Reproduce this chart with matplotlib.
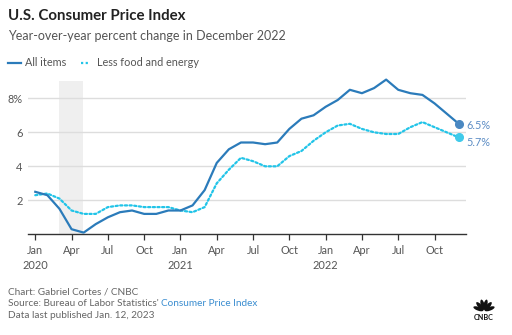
import matplotlib
matplotlib.use("Agg")
import matplotlib.pyplot as plt
from matplotlib.patches import Ellipse
import numpy as np

plt.rcParams['font.family'] = ['Lato', 'DejaVu Sans']

# Year-over-year percent change, Jan 2020 - Dec 2022
all_items = [2.5, 2.3, 1.5, 0.3, 0.1, 0.6, 1.0, 1.3, 1.4, 1.2, 1.2, 1.4,
             1.4, 1.7, 2.6, 4.2, 5.0, 5.4, 5.4, 5.3, 5.4, 6.2, 6.8, 7.0,
             7.5, 7.9, 8.5, 8.3, 8.6, 9.1, 8.5, 8.3, 8.2, 7.7, 7.1, 6.5]
core = [2.3, 2.4, 2.1, 1.4, 1.2, 1.2, 1.6, 1.7, 1.7, 1.6, 1.6, 1.6,
        1.4, 1.3, 1.6, 3.0, 3.8, 4.5, 4.3, 4.0, 4.0, 4.6, 4.9, 5.5,
        6.0, 6.4, 6.5, 6.2, 6.0, 5.9, 5.9, 6.3, 6.6, 6.3, 6.0, 5.7]
months = np.arange(len(all_items))
tick_pos = [0, 3, 6, 9, 12, 15, 18, 21, 24, 27, 30, 33]
tick_labels = ["Jan\n2020", "Apr", "Jul", "Oct", "Jan\n2021", "Apr", "Jul", "Oct",
               "Jan\n2022", "Apr", "Jul", "Oct"]
y_ticks = [2, 4, 6, 8]
y_labels = ["2", "4", "6", "8%"]
recession = (1.98, 3.92)

BLUE = "#2b7bba"
CYAN = "#22c4e8"
GRAY = "#555555"

W, H = 512, 335
fig = plt.figure(figsize=(W / 100, H / 100), dpi=100)
fig.patch.set_facecolor("white")

def fx(px):
    return px / W

def fy(py):
    return 1 - py / H

ymax = 9.3
ax = fig.add_axes([fx(28), fy(234.3), fx(466) - fx(28), 9.3 * 17 / H])
ax.set_xlim(-0.6, 35.6)
ax.set_ylim(0, ymax)

ax.axvspan(recession[0], recession[1], ymin=0, ymax=9.02 / ymax, color="#efefef", lw=0, zorder=0)
for y in y_ticks:
    ax.axhline(y, color="#dddddd", lw=1.0, zorder=1)

ax.plot(months, core, color=CYAN, lw=1.6, linestyle=(0, (1, 1.1)), zorder=3,
        solid_capstyle="round", dash_capstyle="round")
ax.plot(months, all_items, color=BLUE, lw=1.6, zorder=4, solid_joinstyle="round")
ax.plot(months[-1], all_items[-1], "o", color="#4a88c2", ms=5.5, zorder=5)
ax.plot(months[-1], core[-1], "o", color="#3fcaea", ms=5.5, zorder=5)

ax.annotate(f"{all_items[-1]}%", (months[-1], all_items[-1]), xytext=(5.5, -1.5),
            textcoords="offset points", va="center", ha="left", fontsize=7.8, color="#5b8cc4")
ax.annotate(f"{core[-1]}%", (months[-1], core[-1]), xytext=(5.5, -3.5),
            textcoords="offset points", va="center", ha="left", fontsize=7.8, color="#5b8cc4")

for s in ["top", "right", "left"]:
    ax.spines[s].set_visible(False)
ax.spines["bottom"].set_color("#333333")
ax.spines["bottom"].set_linewidth(1.0)
ax.set_xticks(tick_pos)
ax.set_xticklabels(tick_labels, fontsize=7.9, color=GRAY, linespacing=1.35)
ax.tick_params(axis="x", length=4, width=0.9, color="#333333", pad=4)
ax.set_yticks(y_ticks)
ax.set_yticklabels(y_labels, fontsize=7.9, color=GRAY)
ax.tick_params(axis="y", length=0, pad=4)

# Header
fig.text(fx(8), fy(16), "U.S. Consumer Price Index", fontsize=10.8, fontweight="bold",
         color="#222222", va="center", ha="left")
fig.text(fx(8), fy(36), "Year-over-year percent change in December 2022", fontsize=9.0,
         color=GRAY, va="center", ha="left")

# Legend
fig.add_artist(plt.Line2D([fx(8), fx(21)], [fy(63), fy(63)], color=BLUE, lw=1.6))
fig.text(fx(25), fy(63), "All items", fontsize=7.8, color=GRAY, va="center", ha="left")
fig.add_artist(plt.Line2D([fx(81), fx(90)], [fy(63), fy(63)], color=CYAN, lw=1.6,
                          linestyle=(0, (1, 1.1))))
fig.text(fx(97), fy(63), "Less food and energy", fontsize=7.8, color=GRAY, va="center", ha="left")

# Footer
fig.text(fx(8), fy(292), "Chart: Gabriel Cortes / CNBC", fontsize=7.2, color="#666666",
         va="center", ha="left")
src = fig.text(fx(8), fy(304), "Source: Bureau of Labor Statistics' ", fontsize=7.2,
               color="#666666", va="center", ha="left")
fig.canvas.draw()
bb = src.get_window_extent(renderer=fig.canvas.get_renderer())
fig.text(bb.x1 / W, fy(304), "Consumer Price Index", fontsize=7.2, color="#3a8dd0",
         va="center", ha="left")
fig.text(fx(8), fy(316), "Data last published Jan. 12, 2023", fontsize=7.2, color="#666666",
         va="center", ha="left")

# Peacock logo
lax = fig.add_axes([fx(469), fy(326), fx(499) - fx(469), (326 - 294) / H])
lax.set_xlim(-15, 15)
lax.set_ylim(-16, 16)
lax.axis("off")
for ang in np.linspace(160, 20, 6):
    r = np.deg2rad(ang)
    cx, cy = 6.0 * np.cos(r), -1.0 + 6.5 * np.sin(r)
    lax.add_patch(Ellipse((cx, cy), 10.5, 3.8, angle=ang, color="#111111", lw=0))
lax.text(0, -7.5, "CNBC", fontsize=5.2, fontweight="bold", ha="center", va="center", color="#111111")

fig.savefig("out.png", dpi=100, facecolor="white")
